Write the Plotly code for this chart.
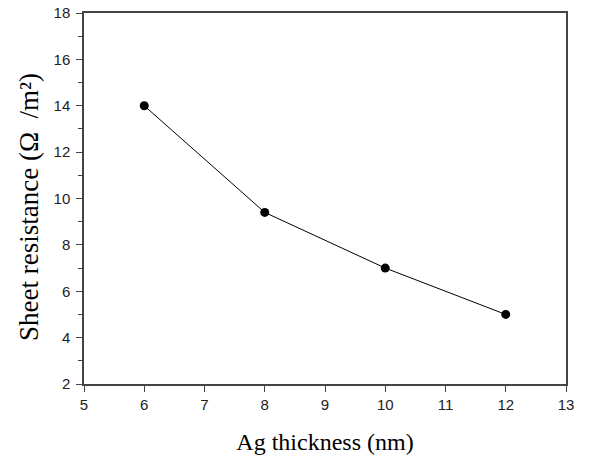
import plotly.graph_objects as go

thickness = [6, 8, 10, 12]
resistance = [14.0, 9.4, 7.0, 5.0]

fig = go.Figure()
fig.add_trace(go.Scatter(
    x=thickness, y=resistance, mode="lines+markers",
    line=dict(color="black", width=1),
    marker=dict(color="black", size=9),
    showlegend=False,
))

tick_font = dict(family="Arial, Liberation Sans", size=15, color="#222")
axis_common = dict(
    showline=True, linecolor="#444", linewidth=1.5, mirror=True,
    ticks="outside", ticklen=6, tickcolor="#444",
    showgrid=False, zeroline=False, automargin=False,
)
fig.update_xaxes(range=[5, 13], dtick=1, tickfont=tick_font,
                 title=dict(text="Ag thickness (nm)", standoff=21,
                            font=dict(family="Liberation Serif, Times New Roman", size=24, color="black")),
                 **axis_common)
fig.update_yaxes(range=[2, 18], dtick=2, tickfont=tick_font, ticklabelstandoff=3,
                 minor=dict(ticks="outside", ticklen=4, dtick=1, tickcolor="#444"),
                 **axis_common)
fig.add_annotation(
    text="Sheet resistance (Ω  /m²)", textangle=-90,
    xref="paper", yref="paper", x=(29 - 84) / 482, y=(384 - 207) / 371,
    xanchor="center", yanchor="middle", showarrow=False,
    font=dict(family="Liberation Serif, Times New Roman", size=27, color="black"),
)
fig.update_layout(
    width=616, height=455,
    margin=dict(l=84, r=50, t=13, b=71),
    plot_bgcolor="white", paper_bgcolor="white",
    font=dict(family="Arial, Liberation Sans", size=15),
)
fig.write_html("out.html")
